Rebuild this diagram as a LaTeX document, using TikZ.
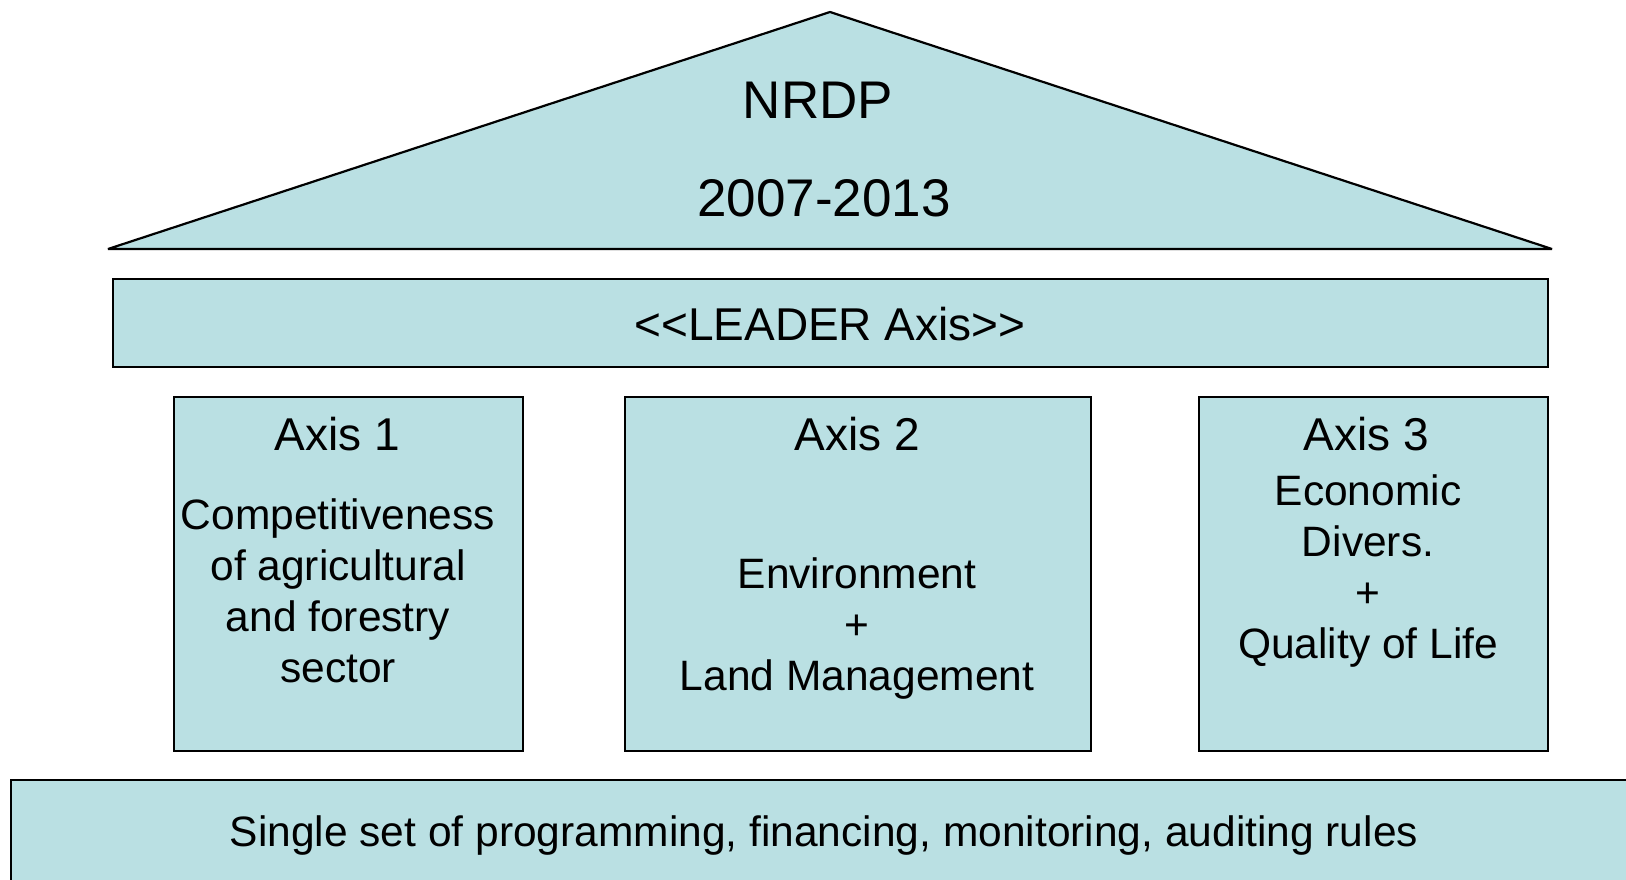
\documentclass[tikz,border=0pt]{standalone}
\usepackage{fontspec}
\setmainfont{Liberation Sans}
\definecolor{boxfill}{RGB}{186,224,227}
\begin{document}
\begin{tikzpicture}[x=1pt,y=-1pt,
  shapebox/.style={draw=black,line width=2.4pt,fill=boxfill,inner sep=0pt,anchor=north west},
  title/.style={anchor=base,inner sep=0pt,font=\fontsize{46}{52}\selectfont},
  body/.style={anchor=base,inner sep=0pt,align=center,font=\fontsize{42.5}{51}\selectfont},
  roof/.style={anchor=base,inner sep=0pt,font=\fontsize{53}{60}\selectfont}]
\path[use as bounding box] (0,0) rectangle (1626,880);
% roof
\coordinate (rl) at (108,249);
\coordinate (rt) at (830,12);
\coordinate (rr) at (1552,249);
\filldraw[draw=black,line width=2.2pt,fill=boxfill,line join=bevel] (rl) -- (rt) -- (rr) -- cycle;
\node[roof] (nrdp) at (818,119) {NRDP};
\node[roof] (years) at (824,216) {2007-2013};
% leader
\node[shapebox,minimum width=1435pt,minimum height=88pt] (leader) at (112,278) {};
\node[title] (leadert) at (830,340) {<{}<LEADER Axis>{}>};
% axes
\node[shapebox,minimum width=349pt,minimum height=354pt] (ax1) at (173,396) {};
\node[shapebox,minimum width=466pt,minimum height=354pt] (ax2) at (624,396) {};
\node[shapebox,minimum width=349pt,minimum height=354pt] (ax3) at (1198,396) {};
\node[title] (ax1t) at (337,450) {Axis 1};
\node[title] (ax2t) at (857,450) {Axis 2};
\node[title] (ax3t) at (1366,450) {Axis 3};
\node[body] (ax1b) at (338,682) {Competitiveness\\of agricultural\\and forestry\\sector};
\node[body] (ax2b) at (857,690) {Environment\\+\\Land Management};
\node[body] (ax3b) at (1368,658) {Economic\\Divers.\\+\\Quality of Life};
% base
\node[shapebox,minimum width=1640pt,minimum height=120pt] (base) at (10,779) {};
\node[body] (baset) at (824,846) {Single set of programming, financing, monitoring, auditing rules};
\end{tikzpicture}
\end{document}
